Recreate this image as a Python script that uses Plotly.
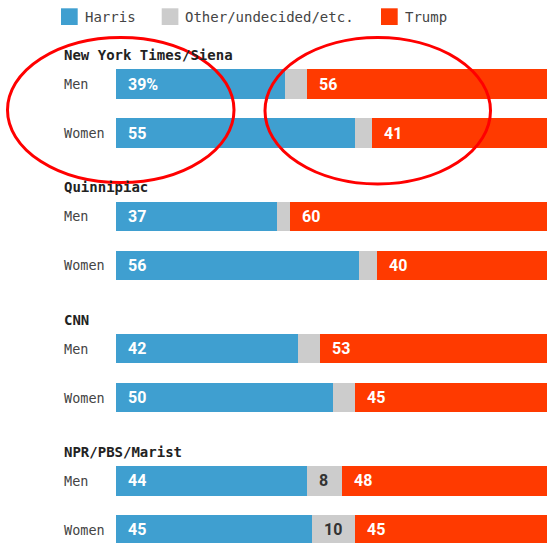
import plotly.graph_objects as go

# ---- data ----
polls = ["New York Times/Siena", "Quinnipiac", "CNN", "NPR/PBS/Marist"]
groups = ["Men", "Women"]
harris = [[39, 55], [37, 56], [42, 50], [44, 45]]
other = [[5, 4], [3, 4], [5, 5], [8, 10]]
trump = [[56, 41], [60, 40], [53, 45], [48, 45]]
series_names = ["Harris", "Other/undecided/etc.", "Trump"]

# ---- style / layout ----
W, H = 547, 543
COLORS = {"Harris": "#3f9fd0", "Other/undecided/etc.": "#cccccc", "Trump": "#ff3a00"}
TEXT_COLORS = {"Harris": "white", "Other/undecided/etc.": "#333333", "Trump": "white"}
MONO = "DejaVu Sans Mono"
NUM_FONT = "Roboto"
X0_PX = 116.0          # pixel where 0% sits
PX_PER_PCT = 4.345
FIRST_ROW_PX = 84.0
GROUP_STEP = 132.3
ROW_STEP = 49.0
BAR_PX = 29.3
HEADER_OFFSET = 29.0
LABEL_PX = 62.0
OTHER_LABEL_MIN = 6

def px_x(p):
    return p / W

def px_y(p):
    return 1 - p / H

ys, labels_rows = [], []
h_vals, o_vals, t_vals = [], [], []
for g, poll in enumerate(polls):
    for r, grp in enumerate(groups):
        ys.append(g * GROUP_STEP + r * ROW_STEP)
        labels_rows.append(grp)
        h_vals.append(harris[g][r])
        o_vals.append(other[g][r])
        t_vals.append(trump[g][r])

fig = go.Figure()
for name, vals in zip(series_names, [h_vals, o_vals, t_vals]):
    fig.add_trace(go.Bar(
        y=ys, x=vals, name=name, orientation="h",
        marker=dict(color=COLORS[name], line=dict(width=0)),
        width=BAR_PX, showlegend=False, hoverinfo="skip",
    ))

annotations = []
shapes = []
label_x = -(X0_PX - LABEL_PX) / PX_PER_PCT

for i, y in enumerate(ys):
    start = 0
    for name, vals in zip(series_names, [h_vals, o_vals, t_vals]):
        v = vals[i]
        show = name != "Other/undecided/etc." or v >= OTHER_LABEL_MIN
        if show:
            txt = f"{v}%" if (i == 0 and name == "Harris") else f"{v}"
            annotations.append(dict(
                x=start, y=y, xref="x", yref="y", text=txt, showarrow=False,
                xanchor="left", yanchor="middle", xshift=10,
                font=dict(family=NUM_FONT, size=16, color=TEXT_COLORS[name], weight=700),
            ))
        start += v
    annotations.append(dict(
        x=label_x, y=y, xref="x", yref="y", text=labels_rows[i],
        showarrow=False, xanchor="left", yanchor="middle",
        font=dict(family=MONO, size=13.5, color="#444444"),
    ))

for g, poll in enumerate(polls):
    annotations.append(dict(
        x=label_x, y=g * GROUP_STEP - HEADER_OFFSET, xref="x", yref="y",
        text=f"<b>{poll}</b>", showarrow=False, xanchor="left", yanchor="middle",
        font=dict(family=MONO, size=14, color="#222222"),
    ))

# legend (manual)
legend_x = [61, 161.7, 381]
for name, lx in zip(series_names, legend_x):
    shapes.append(dict(type="rect", xref="paper", yref="paper",
                       x0=px_x(lx), x1=px_x(lx + 16.7), y0=px_y(25), y1=px_y(8.3),
                       fillcolor=COLORS[name], line=dict(width=0)))
    annotations.append(dict(x=px_x(lx + 21.5), y=px_y(16.6), xref="paper", yref="paper",
                            text=name, showarrow=False, xanchor="left", yanchor="middle",
                            font=dict(family=MONO, size=14, color="#444444")))

# red highlight ellipses
for (ex0, ey0, ex1, ey1) in [(7.5, 37.5, 234, 182.5), (265, 37.5, 490.5, 184)]:
    shapes.append(dict(type="circle", xref="paper", yref="paper",
                       x0=px_x(ex0), x1=px_x(ex1), y0=px_y(ey1), y1=px_y(ey0),
                       line=dict(color="#ff0000", width=3), layer="above"))

fig.update_layout(
    width=W, height=H, barmode="stack", bargap=0,
    margin=dict(l=0, r=0, t=0, b=0),
    paper_bgcolor="white", plot_bgcolor="white",
    xaxis=dict(range=[-X0_PX / PX_PER_PCT, (W - X0_PX) / PX_PER_PCT],
               visible=False, fixedrange=True),
    yaxis=dict(range=[H - FIRST_ROW_PX, -FIRST_ROW_PX],
               visible=False, fixedrange=True),
    annotations=annotations, shapes=shapes, showlegend=False,
)

fig.write_html(
    "out.html",
    config={"displayModeBar": False},
    post_script="document.body.style.margin='0';document.body.style.overflow='hidden';",
)
